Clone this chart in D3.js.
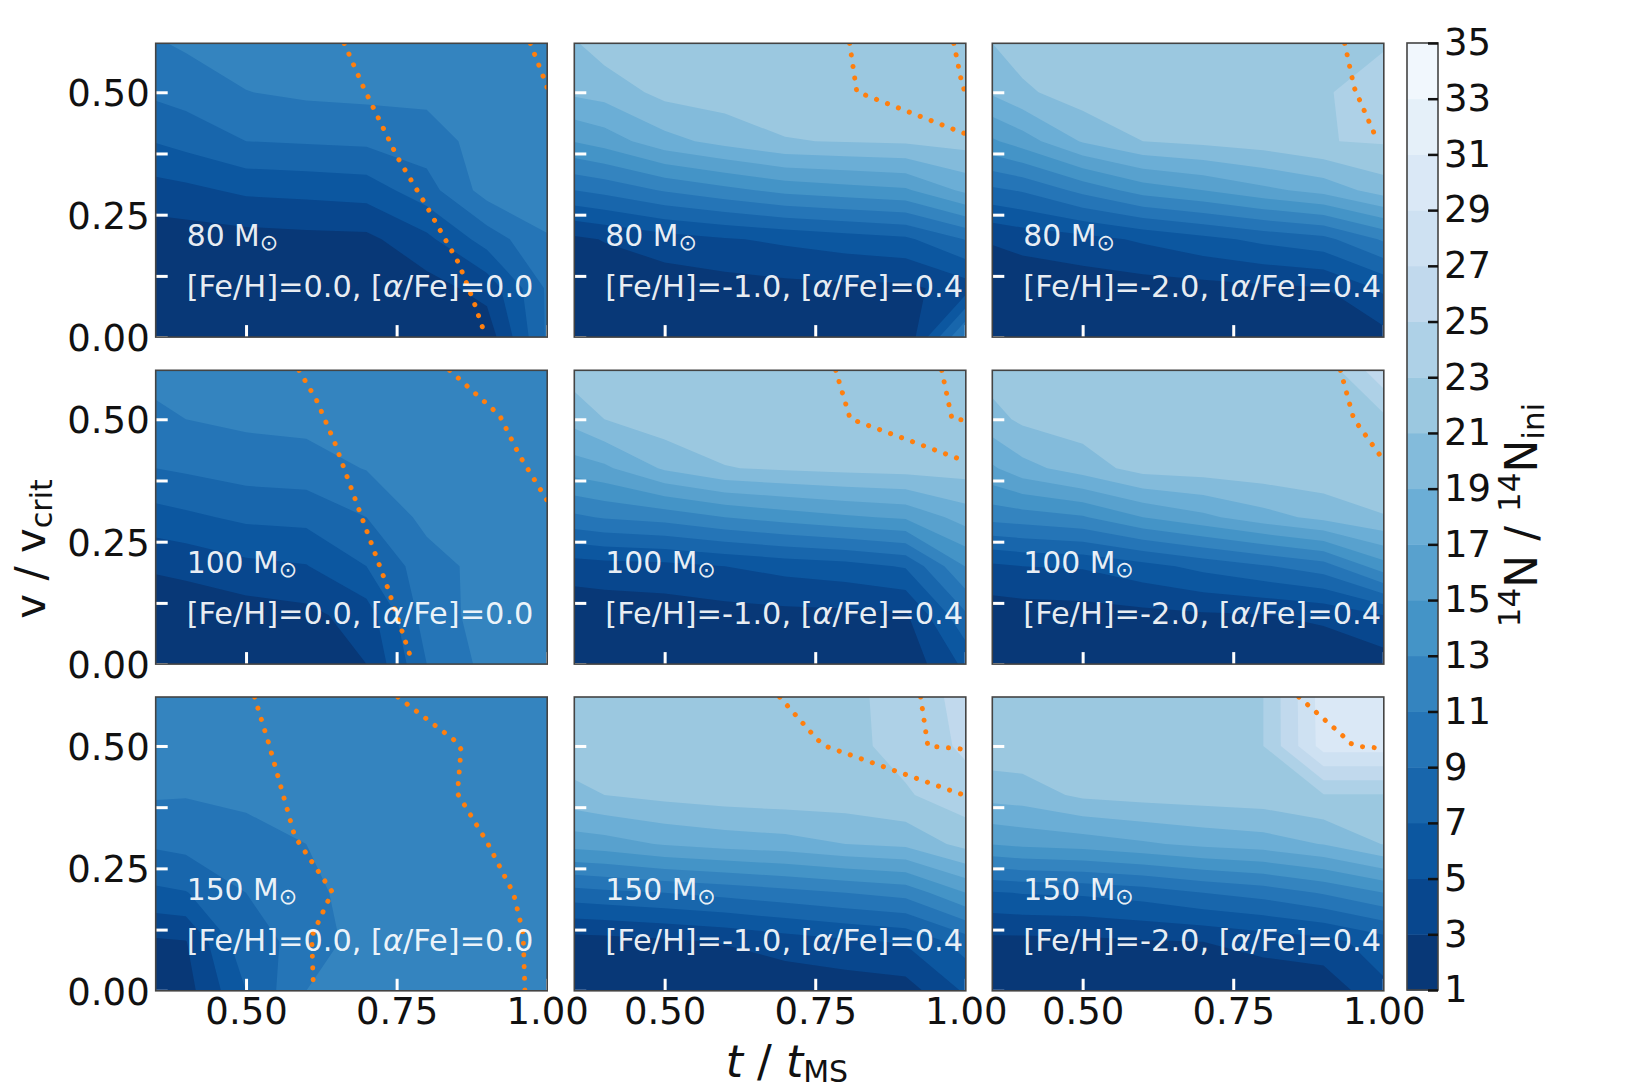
<!DOCTYPE html>
<html>
<head>
<meta charset="utf-8">
<script src="https://cdn.jsdelivr.net/npm/d3@7"></script>
<style>
  html, body { margin: 0; padding: 0; background: #fff; }
  text { font-family: "DejaVu Sans", sans-serif; }
</style>
</head>
<body>
<svg id="chart" width="1639" height="1089"></svg>
<script>
// grid the 14N ratio was read on
const tGrid = [0.35, 0.4, 0.5, 0.6, 0.7, 0.8, 0.9, 1.0];
const vGrid = [0, 0.1, 0.2, 0.3, 0.4, 0.5, 0.6];
const levels = [1, 3, 5, 7, 9, 11, 13, 15, 17, 19, 21, 23, 25, 27, 29, 31, 33, 35];
const bluesAnchors = ["#f7fbff", "#deebf7", "#c6dbef", "#9ecae1", "#6baed6", "#4292c6", "#2171b5", "#08519c", "#08306b"];

const massLabels = ["80", "100", "150"];
const feLabels = ["0.0", "-1.0", "-2.0"];
const alphaLabels = ["0.0", "0.4", "0.4"];
const xTicks = [0.5, 0.75, 1.0];
const yTicks = [0, 0.125, 0.25, 0.375, 0.5];
const yLabelled = [0, 0.25, 0.5];

// values listed from v=0.6 (top row) down to v=0
const n80m0 = [
  [10.8, 11.3, 11.9, 12.1, 12.2, 12.2, 12.3, 12.3],
  [9.4, 9.8, 10.95, 11.37, 11.53, 11.56, 12, 12],
  [7.1, 7.7, 9, 9.2, 9.4, 10, 11.9, 12.4],
  [4.2, 4.5, 5.4, 5.6, 5.9, 8.2, 11.85, 12.4],
  [1.9, 2, 2.2, 2.4, 2.5, 4.5, 7.9, 10.8],
  [1.3, 1.4, 1.6, 1.7, 1.8, 2.2, 3.7, 9.3],
  [1, 1, 1.1, 1.2, 1.3, 1.5, 1.8, 9.3]
];
const n80m1 = [
  [20.8, 22, 22.3, 22.4, 22.5, 22.5, 22.5, 22.6],
  [19.4, 19.8, 21.6, 22, 22, 22.1, 22.2, 22.3],
  [15.1, 15.9, 18.3, 19.7, 20.9, 21.1, 21.3, 21.8],
  [9, 9.6, 11.2, 12.4, 13.6, 14.2, 14.7, 17.5],
  [2.6, 3.1, 4.1, 4.8, 5.4, 6, 6.6, 9.1],
  [1.5, 1.6, 1.8, 2.1, 2.4, 2.6, 2.5, 4],
  [1.1, 1.1, 1.2, 1.3, 1.4, 1.5, 1.3, 11.5]
];
const n80m2 = [
  [21, 22, 22.3, 22.4, 22.5, 22.6, 22.7, 22.9],
  [19.3, 20.6, 22.1, 22.3, 22.4, 22.5, 22.9, 23.5],
  [14.7, 16, 19.2, 21, 21.5, 22, 22.93, 23.2],
  [8.6, 9.2, 11.6, 13.9, 15, 16.5, 17.7, 20],
  [3.2, 3.7, 4.3, 5.3, 6.4, 7.5, 8.4, 11.3],
  [1.5, 1.6, 1.9, 2.1, 2.3, 2.6, 2.9, 5.4],
  [1.1, 1.1, 1.2, 1.3, 1.3, 1.4, 1.6, 2.3]
];
const n100m0 = [
  [11.6, 11.9, 12.1, 12.2, 12.3, 12.3, 12.3, 12.3],
  [10.6, 11, 11.4, 11.6, 11.8, 12, 12, 12],
  [9, 9.3, 9.9, 10.1, 11.1, 12, 12.1, 12.1],
  [6.2, 6.6, 7.4, 7.6, 9, 11.6, 12, 12.1],
  [3.3, 3.6, 4.5, 4.9, 7, 10.1, 11.75, 12],
  [1.5, 1.6, 2, 2.4, 4, 10, 11.75, 12],
  [1, 1.1, 1.2, 1.6, 3, 9, 11.6, 12]
];
const n100m1 = [
  [22, 22.2, 22.3, 22.4, 22.5, 22.5, 22.5, 22.5],
  [19.7, 21, 22.2, 22.4, 22.4, 22.4, 22.4, 22.3],
  [16, 16.6, 19.3, 20.9, 21.3, 21.6, 21.8, 21.9],
  [10.6, 11.2, 11.8, 13, 13.9, 14.7, 15.3, 17.9],
  [3.9, 4.2, 4.4, 5, 5.7, 6.2, 7.2, 13.1],
  [1.7, 1.7, 1.9, 2.2, 2.4, 2.5, 2.7, 8.7],
  [1.1, 1.1, 1.2, 1.3, 1.4, 1.5, 1.6, 5.5]
];
const n100m2 = [
  [21.9, 22, 22, 22, 21.9, 21.9, 21.7, 26.5],
  [20.3, 21.4, 22, 22.1, 22.2, 22.2, 22.2, 22.5],
  [16.7, 18.3, 20, 21.8, 22, 22.3, 22.5, 22.4],
  [11.7, 12, 12.8, 15, 16.5, 18.2, 19.6, 20.9],
  [4.6, 5, 5.2, 6.3, 7.6, 8.8, 10.1, 14.2],
  [1.9, 2, 2.1, 2.4, 2.7, 2.9, 3.4, 5],
  [1.2, 1.2, 1.3, 1.4, 1.4, 1.5, 1.6, 2]
];
const n150m0 = [
  [12.4, 12.4, 12.4, 12.4, 12.4, 12.4, 12.4, 12.4],
  [12.2, 12.3, 12.4, 12.4, 12.4, 12.4, 12.4, 12.4],
  [11.2, 11.1, 11.4, 11.9, 12.2, 12.3, 12.3, 12.3],
  [9.3, 9.6, 10.3, 11, 12.1, 12.3, 12.3, 12.3],
  [6.6, 6.9, 9, 10.2, 12.3, 12.4, 12.4, 12.4],
  [2.7, 2.9, 8.5, 9.4, 12.3, 12.4, 12.4, 12.4],
  [1.3, 2.2, 7, 11, 12, 12.4, 12.4, 12.4]
];
const n150m1 = [
  [22.6, 22.6, 22.6, 22.6, 22.6, 22.6, 23.6, 25.8],
  [22.3, 22.4, 22.4, 22.5, 22.5, 22.5, 23.6, 25.4],
  [20.4, 21, 21.6, 22, 22.2, 22.2, 22.8, 24.1],
  [15.8, 16.1, 17.2, 17.8, 18.2, 19, 19.5, 21.7],
  [8.2, 8.5, 9, 9.6, 10.3, 11, 11.7, 15],
  [2.1, 2.2, 2.6, 3.1, 3.9, 4.6, 5.2, 7.9],
  [1.2, 1.3, 1.4, 1.5, 1.6, 1.8, 2.1, 5.3]
];
const n150m2 = [
  [22.4, 22.4, 22.5, 22.6, 22.7, 23, 30, 30.2],
  [22.2, 22.3, 22.4, 22.5, 22.7, 23, 29.9, 29.9],
  [19.8, 20, 21.4, 21.8, 22, 22.2, 22.9, 22.9],
  [15.1, 15.5, 15.9, 16.7, 17.5, 18, 19.1, 21.1],
  [6.8, 7.1, 7.3, 7.9, 9, 9.8, 11.2, 13],
  [2.4, 2.4, 2.5, 2.8, 3, 3.7, 4.3, 6],
  [1.2, 1.2, 1.3, 1.3, 1.4, 1.5, 1.6, 4.6]
];

// orange dotted curves, [t, v] pairs
const dots80m0 = [
  [[0.663, 0.6], [0.695, 0.51], [0.751, 0.368], [0.799, 0.269], [0.853, 0.151], [0.878, 0.073], [0.898, 0]],
  [[0.972, 0.6], [0.995, 0.527], [1.0, 0.509]]
];
const dots80m1 = [
  [[0.807, 0.6], [0.819, 0.501], [0.991, 0.419], [1.0, 0.415]],
  [[0.98, 0.6], [0.994, 0.515], [1.0, 0.498]]
];
const dots80m2 = [
  [[0.935, 0.6], [0.951, 0.509], [0.989, 0.402]]
];
const dots100m0 = [
  [[0.588, 0.6], [0.617, 0.539], [0.647, 0.453], [0.692, 0.3], [0.736, 0.153], [0.777, 0]],
  [[0.838, 0.6], [0.921, 0.508], [0.954, 0.426], [0.993, 0.348], [1.0, 0.334]]
];
const dots100m1 = [
  [[0.784, 0.6], [0.808, 0.501], [0.996, 0.416], [1.0, 0.414]],
  [[0.96, 0.6], [0.977, 0.501], [1.0, 0.498]]
];
const dots100m2 = [
  [[0.928, 0.6], [0.95, 0.501], [0.994, 0.426], [1.0, 0.416]]
];
const dots150m0 = [
  [[0.514, 0.6], [0.537, 0.508], [0.581, 0.315], [0.643, 0.202], [0.609, 0.111], [0.612, 0]],
  [[0.752, 0.6], [0.85, 0.508], [0.857, 0.493], [0.851, 0.403], [0.9, 0.304], [0.944, 0.199], [0.96, 0.118], [0.963, 0]]
];
const dots150m1 = [
  [[0.691, 0.6], [0.752, 0.515], [0.766, 0.5], [0.996, 0.4], [1.0, 0.398]],
  [[0.925, 0.6], [0.937, 0.5], [1.0, 0.493]]
];
const dots150m2 = [
  [[0.859, 0.6], [0.931, 0.522], [0.945, 0.505], [0.961, 0.499], [1.0, 0.495]]
];

const gridsByRow = [[n80m0, n80m1, n80m2], [n100m0, n100m1, n100m2], [n150m0, n150m1, n150m2]];
const dotsByRow = [[dots80m0, dots80m1, dots80m2], [dots100m0, dots100m1, dots100m2], [dots150m0, dots150m1, dots150m2]];

const colLefts = [155.7, 574.3, 992.3];
const rowTops = [43.3, 370.3, 697];
const panelW = 391.5;
const panelH = 293.8;
const tickLen = 12;
const labelSize = 37;

const svg = d3.select("#chart");

// same ramp as matplotlib Blues_r, band colour taken at the middle of each layer
const ramp = d3.scaleLinear()
  .domain(bluesAnchors.map((d, i) => i / (bluesAnchors.length - 1)))
  .range(bluesAnchors.slice().reverse());
const bandColor = i => ramp((i + 0.5) / (levels.length - 1));

const tIndex = d3.scaleLinear().domain(tGrid.map((d, i) => i + 0.5)).range(tGrid);
const vIndex = d3.scaleLinear().domain(vGrid.map((d, i) => i + 0.5)).range(vGrid);

function drawPanel(row, col) {
  const left = colLefts[col], top = rowTops[row];
  const x = d3.scaleLinear().domain([0.35, 1]).range([left, left + panelW]);
  const y = d3.scaleLinear().domain([0, 0.6]).range([top + panelH, top]);
  const clipId = `clip-${row}-${col}`;

  svg.append("clipPath").attr("id", clipId)
    .append("rect").attr("x", left).attr("y", top).attr("width", panelW).attr("height", panelH);

  const g = svg.append("g");
  const plot = g.append("g").attr("clip-path", `url(#${clipId})`);

  // rows flipped so contour row 0 is v=0
  const values = gridsByRow[row][col].slice().reverse().flat();
  const contours = d3.contours()
    .size([tGrid.length, vGrid.length])
    .thresholds(levels.slice(0, -1))(values);

  const path = d3.geoPath(d3.geoTransform({
    point(px, py) { this.stream.point(x(tIndex(px)), y(vIndex(py))); }
  }));

  plot.selectAll("path.band")
    .data(contours.filter(c => c.coordinates.length))
    .enter().append("path")
    .attr("class", "band")
    .attr("d", path)
    .attr("fill", d => bandColor(levels.indexOf(d.value)));

  const line = d3.line().x(d => x(d[0])).y(d => y(d[1]));
  plot.selectAll("path.dots")
    .data(dotsByRow[row][col])
    .enter().append("path")
    .attr("class", "dots")
    .attr("d", line)
    .attr("fill", "none")
    .attr("stroke", "#ff7f0e")
    .attr("stroke-width", 5)
    .attr("stroke-linecap", "round")
    .attr("stroke-dasharray", "0.1 11.6");

  const xAxis = d3.axisBottom(x).tickValues(xTicks).tickSizeInner(-tickLen).tickSizeOuter(0).tickPadding(7)
    .tickFormat(row === 2 ? d3.format(".2f") : "");
  const yAxis = d3.axisLeft(y).tickValues(yTicks).tickSizeInner(-tickLen).tickSizeOuter(0).tickPadding(6)
    .tickFormat(d => (col === 0 && yLabelled.includes(d)) ? d3.format(".2f")(d) : "");

  const yG = g.append("g").attr("transform", `translate(${left},0)`).call(yAxis);
  yG.selectAll("text").attr("dy", ".36em");

  [g.append("g").attr("transform", `translate(0,${top + panelH})`).call(xAxis), yG].forEach(a => {
    a.select(".domain").remove();
    a.selectAll("line").attr("stroke", "#fff").attr("stroke-width", 3);
    a.selectAll("text").attr("fill", "#111").style("font-size", labelSize + "px")
      .style("font-family", '"DejaVu Sans", sans-serif');
  });

  // annotation text
  const tx = left + 31;
  const mass = g.append("text").attr("x", tx).attr("y", top + 203)
    .attr("fill", "#fff").attr("fill-opacity", 0.92).style("font-size", "29.8px");
  mass.append("tspan").text(`${massLabels[row]} M`);
  mass.append("tspan").text("\u2299").attr("dy", 4).style("font-size", "22px");

  const abund = g.append("text").attr("x", tx).attr("y", top + 253.5)
    .attr("fill", "#fff").attr("fill-opacity", 0.92).style("font-size", "30.4px");
  abund.append("tspan").text(`[Fe/H]=${feLabels[col]}, [`);
  abund.append("tspan").text("\u03b1").style("font-style", "italic");
  abund.append("tspan").text(`/Fe]=${alphaLabels[col]}`);

  g.append("rect").attr("x", left).attr("y", top).attr("width", panelW).attr("height", panelH)
    .attr("fill", "none").attr("stroke", "#444").attr("stroke-width", 1.6);
}

d3.range(3).forEach(r => d3.range(3).forEach(c => drawPanel(r, c)));

// colorbar
const cbLeft = 1407, cbRight = 1438, cbTop = 43, cbBottom = 990;
const cbY = d3.scaleLinear().domain([1, 35]).range([cbBottom, cbTop]);
const cb = svg.append("g");
cb.selectAll("rect.band")
  .data(levels.slice(0, -1))
  .enter().append("rect")
  .attr("class", "band")
  .attr("x", cbLeft)
  .attr("width", cbRight - cbLeft)
  .attr("y", d => cbY(d + 2))
  .attr("height", d => cbY(d) - cbY(d + 2) + 0.5)
  .attr("fill", (d, i) => bandColor(i));
cb.append("rect").attr("x", cbLeft).attr("y", cbTop).attr("width", cbRight - cbLeft).attr("height", cbBottom - cbTop)
  .attr("fill", "none").attr("stroke", "#444").attr("stroke-width", 1.6);
const cbAxis = cb.append("g").attr("transform", `translate(${cbRight},0)`)
  .call(d3.axisRight(cbY).tickValues(levels).tickSizeInner(-10).tickSizeOuter(0).tickPadding(6).tickFormat(d3.format("d")));
cbAxis.select(".domain").remove();
cbAxis.selectAll("line").attr("stroke", "#111").attr("stroke-width", 2.5);
cbAxis.selectAll("text").attr("fill", "#111").style("font-size", labelSize + "px")
  .style("font-family", '"DejaVu Sans", sans-serif');

// axis titles
const xTitle = svg.append("text").attr("x", 787).attr("y", 1077).attr("text-anchor", "middle")
  .attr("fill", "#111").style("font-size", "44px");
xTitle.append("tspan").text("t").style("font-style", "italic");
xTitle.append("tspan").text(" / ");
xTitle.append("tspan").text("t").style("font-style", "italic");
xTitle.append("tspan").text("MS").attr("dy", 4.5).style("font-size", "30px");

const yTitle = svg.append("text").attr("transform", "translate(45,549) rotate(-90)").attr("text-anchor", "middle")
  .attr("fill", "#111").style("font-size", "42px");
yTitle.append("tspan").text("v / v");
yTitle.append("tspan").text("crit").attr("dy", 7).style("font-size", "30px");

const cbTitle = svg.append("text").attr("transform", "translate(1537,515) rotate(-90)").attr("text-anchor", "middle")
  .attr("fill", "#111").style("font-size", "44px");
cbTitle.append("tspan").text("14").attr("dy", -17).style("font-size", "31px");
cbTitle.append("tspan").text("N / ").attr("dy", 17);
cbTitle.append("tspan").text("14").attr("dy", -17).style("font-size", "31px");
cbTitle.append("tspan").text("N").attr("dy", 17);
cbTitle.append("tspan").text("ini").attr("dy", 7).style("font-size", "31px");
</script>
</body>
</html>
